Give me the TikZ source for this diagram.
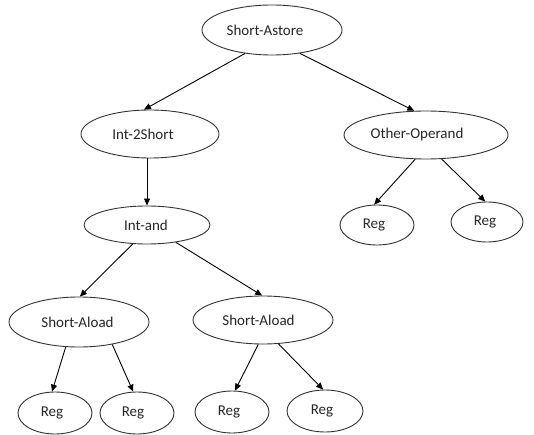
\documentclass[tikz,border=0pt]{standalone}
\usepackage{fontspec}
\setmainfont{Carlito}
\usetikzlibrary{shapes.geometric,arrows.meta}
\newcommand\lftshift[2]{#2\hspace*{#1}}
\tikzset{
  el/.style={ellipse, draw=black!80, line width=0.9pt, inner sep=0pt, font=\fontsize{15}{18}\selectfont, text=black!85},
  conn/.style={line width=0.9pt, -{Triangle[length=7pt,width=6pt]}}
}
\begin{document}
\begin{tikzpicture}[x=1pt,y=-1pt]
\useasboundingbox (0,0) rectangle (534,435);
\node[el, minimum width=140pt, minimum height=50pt] (root) at (272,30) {\lftshift{14pt}{Short-Astore}};
\node[el, minimum width=138pt, minimum height=48pt] (i2s) at (150,134) {\lftshift{14pt}{Int-2Short}};
\node[el, minimum width=164pt, minimum height=48pt] (oo) at (426,135) {\lftshift{18pt}{Other-Operand}};
\node[el, minimum width=74pt, minimum height=40pt] (r1) at (377,225) {\lftshift{6pt}{Reg}};
\node[el, minimum width=72pt, minimum height=40pt] (r2) at (487,222) {\lftshift{4pt}{Reg}};
\node[el, minimum width=126pt, minimum height=38pt] (iand) at (147,225) {\lftshift{2pt}{Int-and}};
\node[el, minimum width=140pt, minimum height=50pt] (sal) at (79,322) {\lftshift{3pt}{Short-Aload}};
\node[el, minimum width=140pt, minimum height=48pt] (sar) at (263,320) {\lftshift{9pt}{Short-Aload}};
\node[el, minimum width=74pt, minimum height=42pt] (b1) at (55,413) {\lftshift{6pt}{Reg}};
\node[el, minimum width=74pt, minimum height=42pt] (b2) at (137,413) {\lftshift{8pt}{Reg}};
\node[el, minimum width=74pt, minimum height=42pt] (b3) at (232,412) {\lftshift{6pt}{Reg}};
\node[el, minimum width=76pt, minimum height=42pt] (b4) at (325,411) {\lftshift{6pt}{Reg}};

\draw[conn] (root.221) -- (i2s.104);
\draw[conn] (root.320) -- (oo.116);
\draw[conn] (i2s.south -| iand.north) -- (iand.north);
\draw[conn] (oo.246) -- (r1.98);
\draw[conn] (oo.303) -- (r2.95);
\draw[conn] (iand.233) -- (sal.88);
\draw[conn] (iand.329) -- (sar.92);
\draw[conn] (sal.242) -- (b1.98);
\draw[conn] (sal.326) -- (b2.100);
\draw[conn] (sar.259) -- (b3.82);
\draw[conn] (sar.303) -- (b4.95);
\end{tikzpicture}
\end{document}
